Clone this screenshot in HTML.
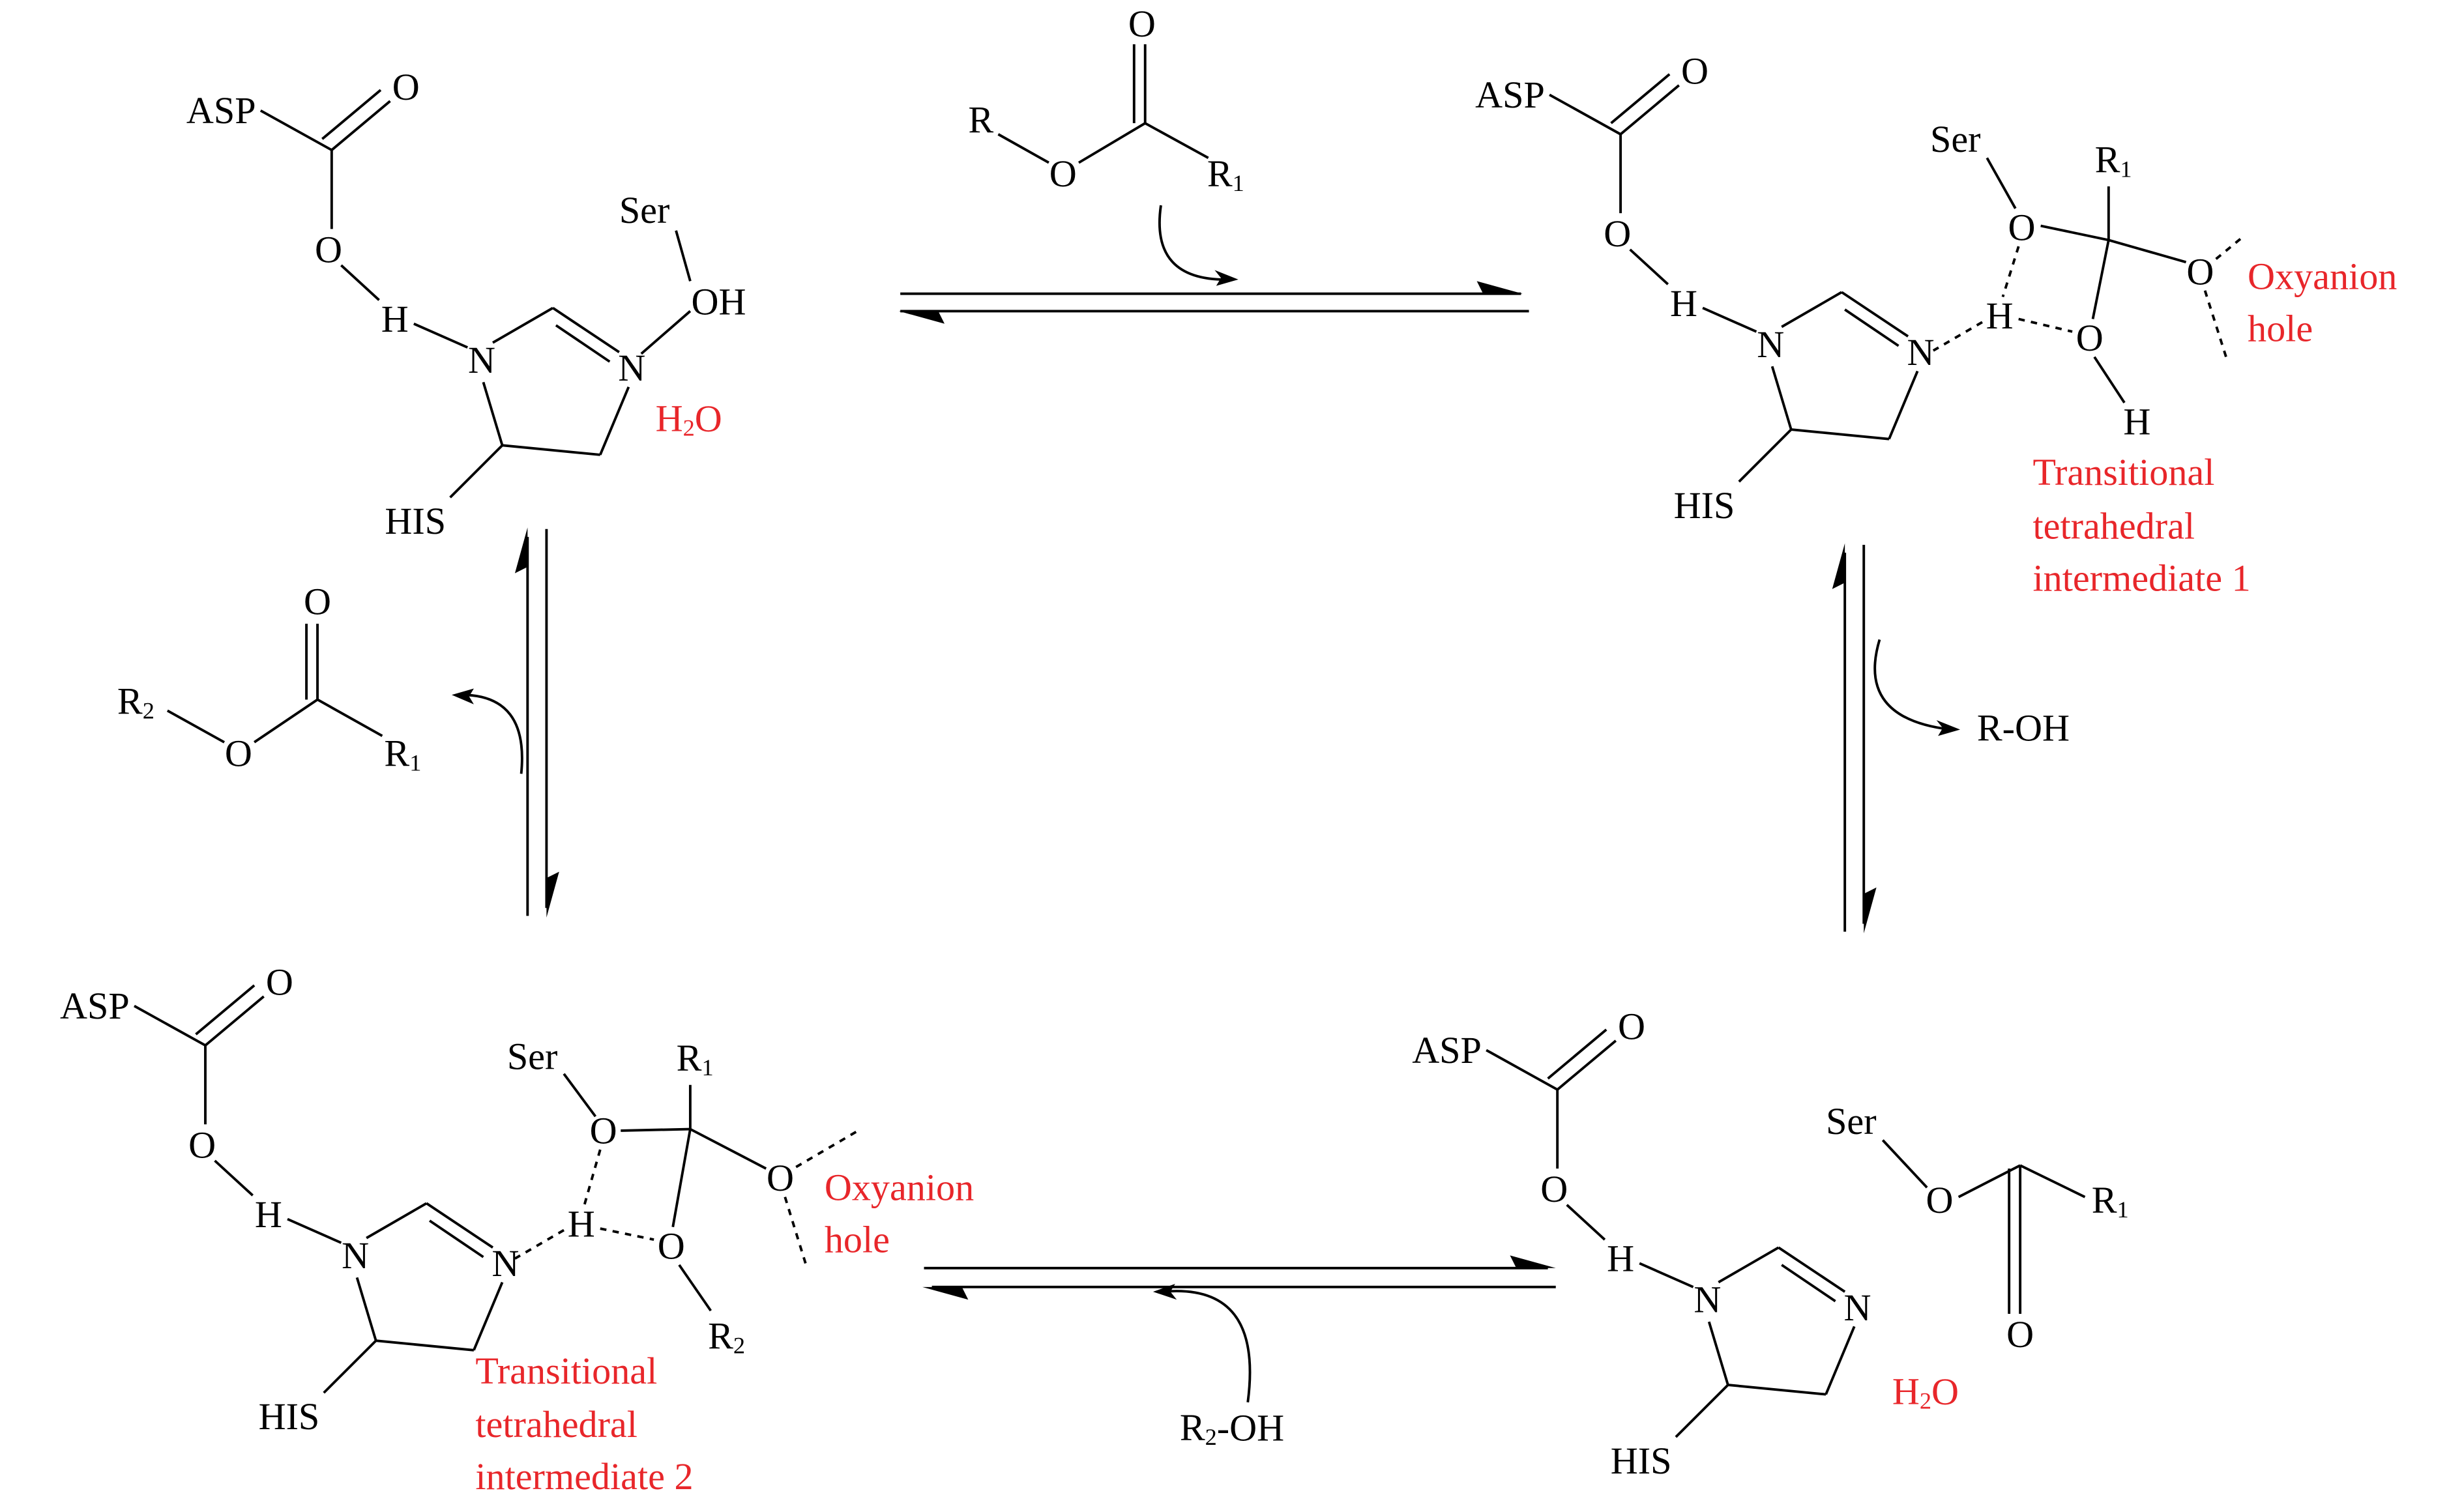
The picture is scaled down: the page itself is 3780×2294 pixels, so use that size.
<!DOCTYPE html>
<html><head><meta charset="utf-8"><style>
html,body{margin:0;padding:0;background:#fff;}
svg{display:block;}
text{font-family:"Liberation Serif",serif;font-size:24px;fill:#000;text-anchor:middle;dominant-baseline:central;}
.r{fill:#e8262a;text-anchor:start;}
line,path{stroke:#000;stroke-width:1.6;fill:none;}
polygon{fill:#000;stroke:none;}
.d{stroke-dasharray:4,4;}
.s{font-size:15px;}
</style></head><body>
<svg width="3780" height="2294" viewBox="0 0 1560 946.7" xmlns="http://www.w3.org/2000/svg">
<defs>
<g id="core">
<text x="140" y="70">ASP</text>
<text x="257" y="55">O</text>
<text x="208" y="158">O</text>
<text x="250" y="202">H</text>
<text x="305" y="228">N</text>
<text x="400" y="233">N</text>
<text x="263" y="330">HIS</text>
<line x1="165" y1="70" x2="210" y2="95"/>
<line x1="210" y1="95" x2="247" y2="64"/>
<line x1="204" y1="88" x2="241" y2="57"/>
<line x1="210" y1="95" x2="210" y2="145"/>
<line x1="216" y1="168" x2="240" y2="190"/>
<line x1="262" y1="205" x2="296" y2="220"/>
<line x1="312" y1="217" x2="350" y2="195"/>
<line x1="350" y1="195" x2="392" y2="223"/>
<line x1="352" y1="206" x2="386" y2="229"/>
<line x1="398" y1="245" x2="380" y2="288"/>
<line x1="380" y1="288" x2="318" y2="282"/>
<line x1="318" y1="282" x2="306" y2="242"/>
<line x1="318" y1="282" x2="285" y2="315"/>
</g>
</defs>

<!-- TL -->
<use href="#core"/>
<text x="408" y="133">Ser</text>
<line x1="428" y1="146" x2="437" y2="178"/>
<text x="455" y="191">OH</text>
<line x1="406" y1="224" x2="437" y2="197"/>
<text class="r" x="415" y="265">H<tspan class="s" dy="6">2</tspan><tspan dy="-6">O</tspan></text>

<!-- top arrows -->
<line x1="570" y1="186" x2="963" y2="186"/>
<polygon points="964,186 935,178 939,186"/>
<line x1="570" y1="197" x2="968" y2="197"/>
<polygon points="569,197 598,205 594,197"/>
<path d="M735 130 Q728 178 778 177"/>
<polygon points="784,177 770,181 773,176 769,171"/>
<text x="621" y="76">R</text>
<line x1="632" y1="85" x2="664" y2="103"/>
<text x="673" y="110">O</text>
<line x1="683" y1="103" x2="725" y2="78"/>
<line x1="725" y1="78" x2="725" y2="28"/>
<line x1="718" y1="78" x2="718" y2="28"/>
<text x="723" y="15">O</text>
<line x1="725" y1="78" x2="765" y2="100"/>
<text x="776" y="110">R<tspan class="s" dy="6">1</tspan></text>

<!-- TR -->
<use href="#core" transform="translate(816,-10)"/>
<text x="1238" y="88">Ser</text>
<line x1="1258" y1="100" x2="1276" y2="132"/>
<text x="1280" y="144">O</text>
<line x1="1292" y1="143" x2="1335" y2="152"/>
<text x="1338" y="101">R<tspan class="s" dy="6">1</tspan></text>
<line x1="1335" y1="152" x2="1335" y2="118"/>
<line x1="1335" y1="152" x2="1384" y2="166"/>
<text x="1393" y="172">O</text>
<line x1="1335" y1="152" x2="1325" y2="202"/>
<text x="1323" y="214">O</text>
<line x1="1326" y1="226" x2="1345" y2="255"/>
<text x="1353" y="267">H</text>
<text x="1266" y="200">H</text>
<line class="d" x1="1278" y1="156" x2="1268" y2="188"/>
<line class="d" x1="1255" y1="204" x2="1224" y2="222"/>
<line class="d" x1="1278" y1="202" x2="1312" y2="210"/>
<line class="d" x1="1403" y1="164" x2="1420" y2="150"/>
<line class="d" x1="1396" y1="184" x2="1410" y2="228"/>
<text class="r" x="1423" y="175">Oxyanion</text>
<text class="r" x="1423" y="208">hole</text>
<text class="r" x="1287" y="299">Transitional</text>
<text class="r" x="1287" y="333">tetrahedral</text>
<text class="r" x="1287" y="366">intermediate 1</text>

<!-- right vertical arrows -->
<line x1="1168" y1="350" x2="1168" y2="590"/>
<polygon points="1168,344 1160,373 1168,369"/>
<line x1="1180" y1="345" x2="1180" y2="585"/>
<polygon points="1180,591 1188,562 1180,566"/>
<path d="M1190 405 Q1175 455 1235 462"/>
<polygon points="1241,462 1227,466 1230,461 1226,456"/>
<text x="1281" y="461">R-OH</text>

<!-- left vertical arrows -->
<line x1="334" y1="340" x2="334" y2="580"/>
<polygon points="334,334 326,363 334,359"/>
<line x1="346" y1="335" x2="346" y2="575"/>
<polygon points="346,581 354,552 346,556"/>
<path d="M330 490 Q335 440 292 440"/>
<polygon points="286,440 300,436 297,441 300,446"/>
<text x="86" y="444">R<tspan class="s" dy="6">2</tspan></text>
<line x1="106" y1="450" x2="142" y2="470"/>
<text x="151" y="477">O</text>
<line x1="161" y1="470" x2="201" y2="443"/>
<line x1="201" y1="443" x2="201" y2="395"/>
<line x1="194" y1="443" x2="194" y2="395"/>
<text x="201" y="381">O</text>
<line x1="201" y1="443" x2="242" y2="466"/>
<text x="255" y="477">R<tspan class="s" dy="6">1</tspan></text>

<!-- BL -->
<use href="#core" transform="translate(-80,567)"/>
<text x="337" y="669">Ser</text>
<line x1="357" y1="680" x2="377" y2="707"/>
<text x="382" y="716">O</text>
<line x1="393" y1="716" x2="437" y2="715"/>
<text x="440" y="670">R<tspan class="s" dy="6">1</tspan></text>
<line x1="437" y1="715" x2="437" y2="687"/>
<line x1="437" y1="715" x2="485" y2="740"/>
<text x="494" y="746">O</text>
<line x1="437" y1="715" x2="426" y2="777"/>
<text x="425" y="789">O</text>
<line x1="430" y1="801" x2="450" y2="830"/>
<text x="460" y="846">R<tspan class="s" dy="6">2</tspan></text>
<text x="368" y="775">H</text>
<line class="d" x1="380" y1="728" x2="370" y2="763"/>
<line class="d" x1="357" y1="779" x2="326" y2="797"/>
<line class="d" x1="380" y1="778" x2="414" y2="785"/>
<line class="d" x1="504" y1="739" x2="545" y2="715"/>
<line class="d" x1="497" y1="758" x2="510" y2="800"/>
<text class="r" x="522" y="752">Oxyanion</text>
<text class="r" x="522" y="785">hole</text>
<text class="r" x="301" y="868">Transitional</text>
<text class="r" x="301" y="902">tetrahedral</text>
<text class="r" x="301" y="935">intermediate 2</text>

<!-- bottom arrows -->
<line x1="585" y1="803" x2="980" y2="803"/>
<polygon points="985,803 956,795 960,803"/>
<line x1="590" y1="815" x2="985" y2="815"/>
<polygon points="584,815 613,823 609,815"/>
<path d="M790 888 Q800 812 736 818"/>
<polygon points="730,818 744,813 741,818 745,823"/>
<text x="780" y="904">R<tspan class="s" dy="6">2</tspan><tspan dy="-6">-OH</tspan></text>

<!-- BR -->
<use href="#core" transform="translate(776,595)"/>
<text x="1172" y="710">Ser</text>
<line x1="1192" y1="722" x2="1220" y2="752"/>
<text x="1228" y="760">O</text>
<line x1="1240" y1="758" x2="1279" y2="738"/>
<line x1="1279" y1="738" x2="1320" y2="758"/>
<text x="1336" y="760">R<tspan class="s" dy="6">1</tspan></text>
<line x1="1279" y1="738" x2="1279" y2="832"/>
<line x1="1272" y1="740" x2="1272" y2="832"/>
<text x="1279" y="845">O</text>
<text class="r" x="1198" y="881">H<tspan class="s" dy="6">2</tspan><tspan dy="-6">O</tspan></text>
</svg>
</body></html>
